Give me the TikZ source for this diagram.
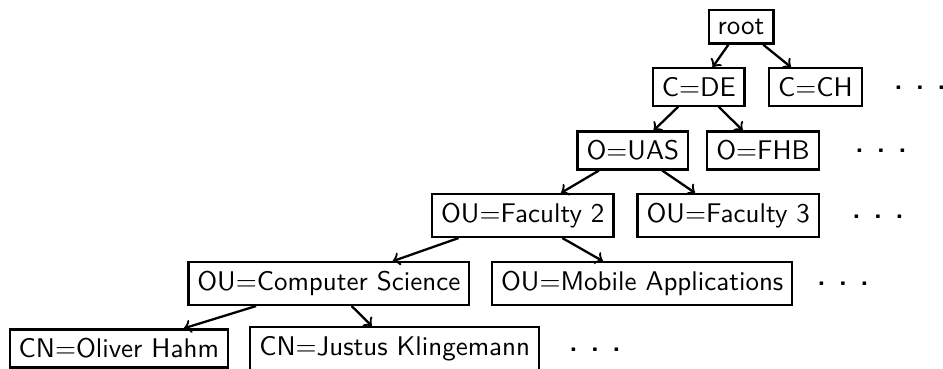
\documentclass[tikz,border=0pt]{standalone}
\begin{document}
\begin{tikzpicture}[x=0.37037pt,y=-0.37037pt, font=\sffamily,
  box/.style={draw, line width=0.85pt, inner sep=3.33pt},
  link/.style={->, line width=0.85pt},
  more/.style={inner sep=0pt, font=\sffamily\bfseries}]
\useasboundingbox (0,0) rectangle (943,368);
% row 0
\node[box] (root) at (741,26.7) {root};
% row 1
\node[box] (cde) at (698.7,87) {C=DE};
\node[box] (cch) at (815.5,87) {C=CH};
\node[more] (d1) at (920,88) {. . .};
% row 2
\node[box] (uas) at (632.8,150.5) {O=UAS};
\node[box] (fhb) at (763,150.5) {O=FHB};
\node[more] (d2) at (881,151) {. . .};
% row 3
\node[box] (f2) at (522.8,215.5) {OU=Faculty 2};
\node[box] (f3) at (728.3,215.5) {OU=Faculty 3};
\node[more] (d3) at (878,216.5) {. . .};
% row 4
\node[box] (cs) at (328.8,283.6) {OU=Computer Science};
\node[box] (ma) at (642.2,283.6) {OU=Mobile Applications};
\node[more] (d4) at (843,283.6) {. . .};
% row 5
\node[box] (oh) at (118.8,348.4) {CN=Oliver Hahm};
\node[box] (jk) at (394.7,348.4) {CN=Justus Klingemann};
\node[more] (d5) at (595,349.5) {. . .};
% connectors
\draw[link] (root) -- (cde);
\draw[link] (root) -- (cch);
\draw[link] (cde) -- (uas);
\draw[link] (cde) -- (fhb);
\draw[link] (uas) -- (f2);
\draw[link] (uas) -- (f3);
\draw[link] (f2) -- (cs);
\draw[link] (f2) -- (ma);
\draw[link] (cs) -- (oh);
\draw[link] (cs) -- (jk);
\end{tikzpicture}
\end{document}
